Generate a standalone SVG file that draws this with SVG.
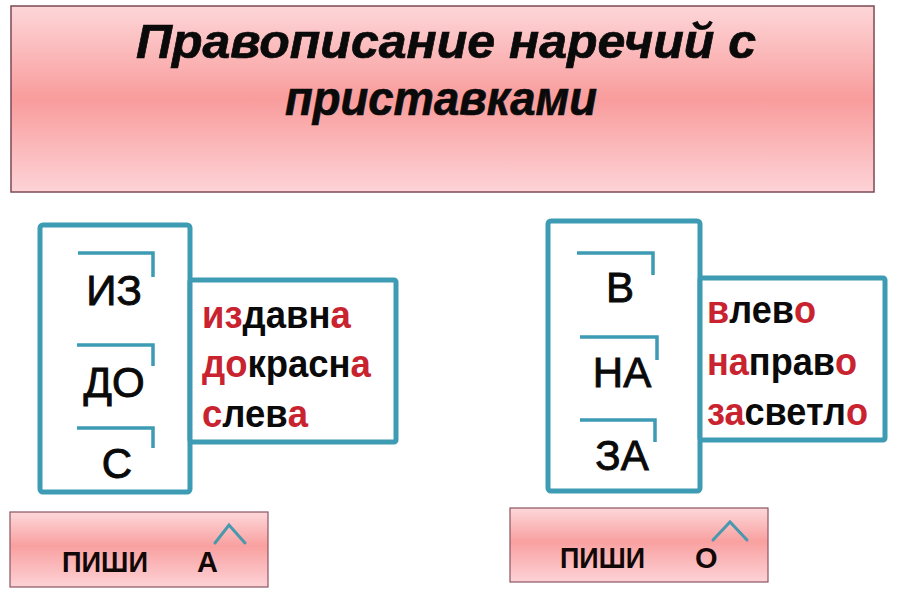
<svg xmlns="http://www.w3.org/2000/svg" width="898" height="589" viewBox="0 0 898 589">
  <defs>
    <linearGradient id="pink" x1="0" y1="0" x2="0" y2="1">
      <stop offset="0" stop-color="#fdd6d8"/>
      <stop offset="0.5" stop-color="#f99c9c"/>
      <stop offset="1" stop-color="#fdd3d7"/>
    </linearGradient>
    <linearGradient id="pinkBtn" x1="0" y1="0" x2="0" y2="1">
      <stop offset="0" stop-color="#fdd8da"/>
      <stop offset="0.45" stop-color="#f9a0a0"/>
      <stop offset="1" stop-color="#fdd2d6"/>
    </linearGradient>
  </defs>
  <style>
    .banner { fill: url(#pink); stroke: #7c4a56; stroke-width: 1.5; }
    .btn { fill: url(#pinkBtn); stroke: #8a5462; stroke-width: 1.2; }
    .frame { fill: #fff; stroke: #3d9bb3; stroke-width: 5; stroke-linejoin: round; }
    .bracket { fill: none; stroke: #3d9bb3; stroke-width: 3.5; }
    .caret { fill: none; stroke: #4a98ad; stroke-width: 3; stroke-linecap: round; }
    .title { font-family: "Liberation Sans", Arial, sans-serif; font-weight: bold; font-style: italic; font-size: 48px; fill: #0a0a0a; stroke: #0a0a0a; stroke-width: 0.7; }
    .prefix { font-family: "Liberation Sans", Arial, sans-serif; font-size: 42px; fill: #0a0a0a; stroke: #0a0a0a; stroke-width: 0.9; text-anchor: middle; }
    .word { font-family: "Liberation Sans", Arial, sans-serif; font-weight: bold; font-size: 38px; fill: #0a0a0a; }
    .red { fill: #c8232f; }
    .btntext { font-family: "Liberation Sans", Arial, sans-serif; font-weight: bold; font-size: 29px; fill: #120808; }
  </style>

  <g id="title">
    <rect class="banner" x="11" y="6" width="863" height="186"/>
    <text class="title" x="136" y="58" textLength="620" lengthAdjust="spacingAndGlyphs">Правописание наречий с</text>
    <text class="title" x="285" y="115" textLength="312" lengthAdjust="spacingAndGlyphs">приставками</text>
  </g>

  <g id="left-prefixes">
    <rect class="frame" x="40" y="225" width="150" height="267" rx="3"/>
    <path class="bracket" d="M78 253 H153 V277"/>
    <path class="bracket" d="M77 345 H153 V366"/>
    <path class="bracket" d="M77 428 H153 V448"/>
    <text class="prefix" x="114" y="305">ИЗ</text>
    <text class="prefix" x="114" y="397">ДО</text>
    <text class="prefix" x="117" y="478">С</text>
  </g>

  <g id="left-words">
    <rect class="frame" x="190" y="280" width="206" height="162" rx="2"/>
    <g transform="translate(202 0) scale(0.96 1)">
      <text class="word" x="0" y="328"><tspan class="red">из</tspan>давн<tspan class="red">а</tspan></text>
      <text class="word" x="0" y="377"><tspan class="red">до</tspan>красн<tspan class="red">а</tspan></text>
      <text class="word" x="0" y="427"><tspan class="red">с</tspan>лев<tspan class="red">а</tspan></text>
    </g>
  </g>

  <g id="right-prefixes">
    <rect class="frame" x="548" y="221" width="152" height="270" rx="3"/>
    <path class="bracket" d="M577 253 H653 V275"/>
    <path class="bracket" d="M580 337 H657 V360"/>
    <path class="bracket" d="M580 420 H655 V442"/>
    <text class="prefix" x="620" y="302">В</text>
    <text class="prefix" x="622" y="387">НА</text>
    <text class="prefix" x="622" y="470">ЗА</text>
  </g>

  <g id="right-words">
    <rect class="frame" x="700" y="278" width="185" height="162" rx="2"/>
    <g transform="translate(707 0) scale(0.95 1)">
      <text class="word" x="0" y="323"><tspan class="red">в</tspan>лев<tspan class="red">о</tspan></text>
      <text class="word" x="0" y="375"><tspan class="red">на</tspan>прав<tspan class="red">о</tspan></text>
      <text class="word" x="0" y="425"><tspan class="red">за</tspan>светл<tspan class="red">о</tspan></text>
    </g>
  </g>

  <g id="rule-a">
    <rect class="btn" x="10" y="512" width="258" height="75"/>
    <text class="btntext" x="62" y="572" textLength="86" lengthAdjust="spacingAndGlyphs">ПИШИ</text>
    <text class="btntext" x="197" y="572">А</text>
    <path class="caret" d="M215 543 L229 525 L245 543"/>
  </g>

  <g id="rule-o">
    <rect class="btn" x="510" y="508" width="258" height="74"/>
    <text class="btntext" x="560" y="568" textLength="85" lengthAdjust="spacingAndGlyphs">ПИШИ</text>
    <text class="btntext" x="695" y="568">О</text>
    <path class="caret" d="M713 540 L730 522 L747 540"/>
  </g>

  <g id="connectors"></g>
</svg>
